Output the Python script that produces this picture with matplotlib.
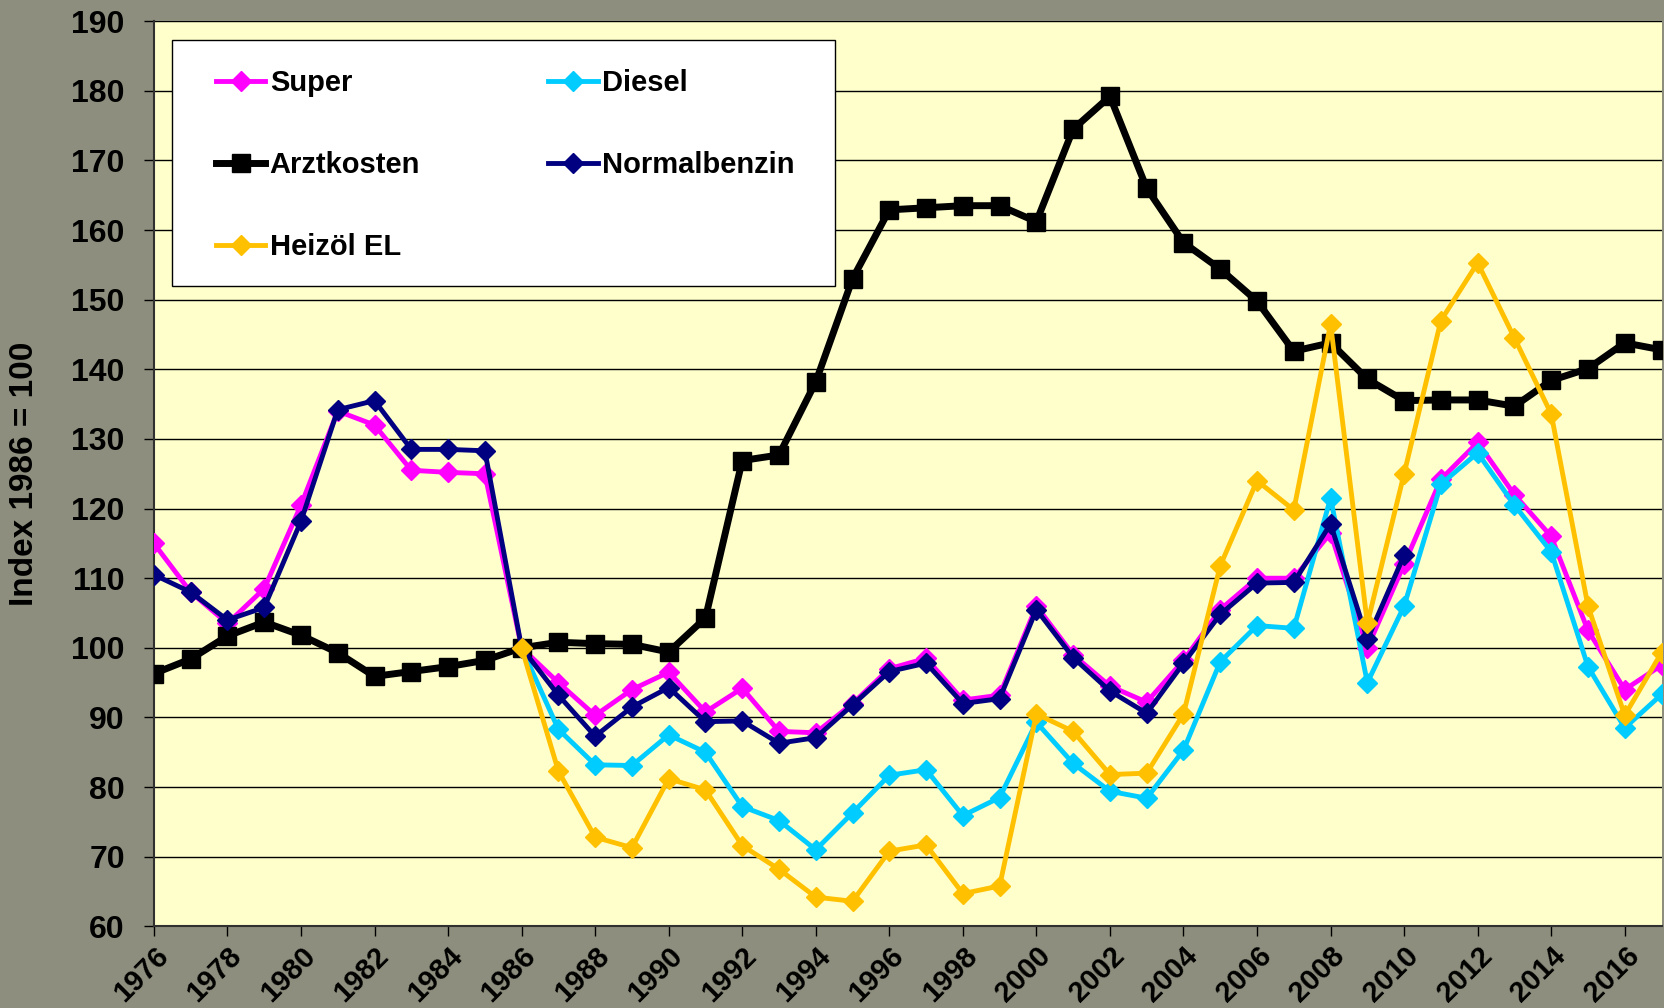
import matplotlib
matplotlib.use("Agg")
import matplotlib.pyplot as plt
from matplotlib.patches import Rectangle

plt.rcParams["font.family"] = ["Liberation Sans", "DejaVu Sans"]
plt.rcParams["font.weight"] = "bold"

# index values, 1986 = 100
years_all = list(range(1976, 2018))
years_diesel = list(range(1986, 2018))
years_normal = list(range(1976, 2011))

super_vals = [115.0, 108.0, 103.5, 108.5, 120.5, 134.0, 132.0, 125.5, 125.2, 125.0,
              100.0, 95.0, 90.3, 94.0, 96.5, 90.8, 94.2, 88.0, 87.8, 92.0,
              97.0, 98.5, 92.5, 93.2, 106.0, 99.0, 94.5, 92.2, 98.2, 105.5,
              110.0, 110.0, 116.5, 100.0, 112.0, 124.2, 129.5, 122.0, 116.0, 102.5,
              94.0, 97.5]
arzt_vals = [96.3, 98.4, 101.7, 103.7, 101.8, 99.3, 95.9, 96.6, 97.3, 98.2,
             100.0, 100.8, 100.6, 100.5, 99.4, 104.3, 126.9, 127.7, 138.2, 153.0,
             162.9, 163.2, 163.5, 163.5, 161.2, 174.5, 179.2, 166.0, 158.2, 154.4,
             149.8, 142.6, 143.8, 138.6, 135.5, 135.6, 135.6, 134.7, 138.4, 140.1,
             143.8, 142.8]
normal_vals = [110.5, 108.0, 104.0, 105.8, 118.2, 134.2, 135.5, 128.5, 128.5, 128.3,
               100.0, 93.2, 87.3, 91.5, 94.3, 89.4, 89.5, 86.3, 87.1, 91.8,
               96.6, 97.8, 92.0, 92.7, 105.5, 98.6, 93.8, 90.6, 97.8, 104.8,
               109.3, 109.4, 117.8, 101.2, 113.3]
diesel_vals = [100.0, 88.3, 83.2, 83.1, 87.5, 85.0, 77.2, 75.2, 71.0, 76.3,
               81.7, 82.5, 75.9, 78.5, 89.3, 83.4, 79.4, 78.4, 85.3, 98.0,
               103.2, 102.8, 121.5, 95.0, 106.0, 123.5, 128.0, 120.5, 113.8, 97.3,
               88.5, 93.3]
heizoel_vals = [100.0, 82.3, 72.8, 71.3, 81.2, 79.6, 71.6, 68.2, 64.2, 63.6,
                70.8, 71.7, 64.7, 65.8, 90.5, 88.0, 81.8, 82.0, 90.5, 111.8,
                124.0, 119.8, 146.5, 103.5, 125.0, 147.0, 155.3, 144.5, 133.6, 106.0,
                90.3, 99.3]

fig = plt.figure(figsize=(16.64, 10.08), dpi=100, facecolor="#8e8e7e")
ax = fig.add_axes([0.0925, 0.081, 0.906, 0.898])
ax.set_facecolor("#ffffcc")

diamond = dict(marker="D", markersize=10, lw=3.5)
l_super, = ax.plot(years_all, super_vals, color="#ff00ff", label="Super", zorder=3, **diamond)
l_diesel, = ax.plot(years_diesel, diesel_vals, color="#00ccff", label="Diesel", zorder=4, **diamond)
l_arzt, = ax.plot(years_all, arzt_vals, color="black", marker="s", markersize=12.5, lw=5,
                  label="Arztkosten", zorder=5)
l_normal, = ax.plot(years_normal, normal_vals, color="#000080", label="Normalbenzin", zorder=6, **diamond)
l_heiz, = ax.plot(years_diesel, heizoel_vals, color="#ffc000", label="Heizöl EL", zorder=7, **diamond)

ax.set_xlim(1976, 2017)
ax.set_ylim(60, 190)
ax.set_yticks(range(60, 191, 10))
ax.set_xticks(range(1976, 2017, 2))
ax.yaxis.grid(True, color="black", lw=1)
ax.set_axisbelow(True)
for s in ("top", "right"):
    ax.spines[s].set_visible(False)
for s in ("left", "bottom"):
    ax.spines[s].set_color("#303030")
    ax.spines[s].set_linewidth(1.5)
ax.tick_params(direction="out", length=7, width=1, colors="black")
ax.tick_params(axis="y", labelsize=23, pad=14)
ax.tick_params(axis="x", labelsize=21, pad=4)
plt.setp(ax.get_xticklabels(), rotation=45, ha="right", rotation_mode="anchor", fontweight="bold")
plt.setp(ax.get_yticklabels(), fontweight="bold")
ax.set_ylabel("Index 1986 = 100", fontsize=24, fontweight="bold")
ax.yaxis.set_label_coords(-0.0756, 0.5)

# legend box drawn separately so the padding can differ horizontally / vertically
ax.add_patch(Rectangle((0.0119, 0.707), 0.440, 0.272, transform=ax.transAxes,
                       facecolor="white", edgecolor="black", lw=1, zorder=9))
leg = ax.legend(handles=[l_super, l_arzt, l_heiz, l_diesel, l_normal], ncol=2,
                loc="upper left", bbox_to_anchor=(0.041, 0.947),
                fontsize=21, frameon=False, labelspacing=1.85, handlelength=1.7,
                handletextpad=0.15, columnspacing=4.4, borderpad=0, borderaxespad=0)
leg.set_zorder(10)

fig.savefig("out.png", dpi=100, facecolor=fig.get_facecolor())
